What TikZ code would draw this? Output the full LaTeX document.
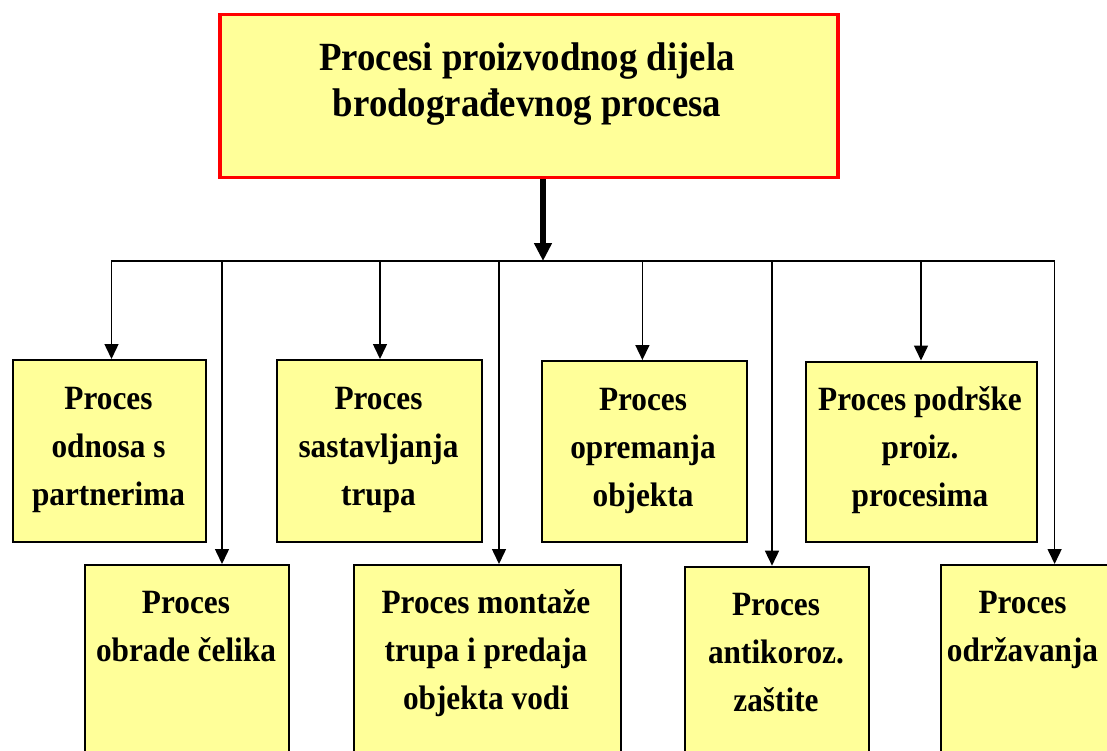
\documentclass[tikz,border=0pt]{standalone}
\usepackage{fontspec}
\setmainfont{Liberation Serif}[FakeStretch=0.92]
\usetikzlibrary{arrows.meta}
\definecolor{boxyellow}{HTML}{FFFF99}
\newcommand\firststrut{\rule{0pt}{0.75em}}
\begin{document}
\begin{tikzpicture}[x=1pt,y=-1pt,
  procbox/.style={draw=black,line width=2.3pt,fill=boxyellow,rectangle,inner sep=0pt,anchor=north west},
  topbox/.style={draw=red,line width=3.5pt,fill=boxyellow,rectangle,inner sep=0pt,anchor=north west},
  boxtext/.style={align=center,inner sep=0pt,anchor=north,font=\fontsize{34}{48}\selectfont\bfseries},
  toptext/.style={align=center,inner sep=0pt,anchor=north,font=\fontsize{40}{46.7}\selectfont\bfseries},
  busline/.style={line width=1.5pt,line cap=rect},
  conn/.style={line width=1.5pt,-{Triangle[width=14pt,length=15pt]}},
  mainconn/.style={line width=6pt,-{Triangle[width=17pt,length=18pt]}}]
\useasboundingbox (0,0) rectangle (1107,751);
\fill[white] (0,0) rectangle (1107,751);
% top box
\node[topbox,minimum width=618pt,minimum height=163pt] (top) at (218,13) {};
\node[toptext] (toptxt) at (527,40) {\firststrut Procesi proizvodnog dijela\\brodograđevnog procesa};
% upper row
\node[procbox,minimum width=193pt,minimum height=182pt] (b1) at (12,359) {};
\node[procbox,minimum width=205pt,minimum height=182pt] (b2) at (276,359) {};
\node[procbox,minimum width=205pt,minimum height=181pt] (b3) at (540.5,360) {};
\node[procbox,minimum width=231pt,minimum height=180pt] (b4) at (804.5,360.5) {};
\node[boxtext] (t1) at (108.5,383.5) {\firststrut Proces\\odnosa s\\partnerima};
\node[boxtext] (t2) at (378.5,383.5) {\firststrut Proces\\sastavljanja\\trupa};
\node[boxtext] (t3) at (643,384.5) {\firststrut Proces\\opremanja\\objekta};
\node[boxtext] (t4) at (920,384.5) {\firststrut Proces podrške\\proiz.\\procesima};
% lower row
\node[procbox,minimum width=204pt,minimum height=210pt] (b5) at (84,564) {};
\node[procbox,minimum width=267pt,minimum height=210pt] (b6) at (352.5,564) {};
\node[procbox,minimum width=184pt,minimum height=210pt] (b7) at (684,565.7) {};
\node[procbox,minimum width=180pt,minimum height=210pt] (b8) at (939.6,564) {};
\node[boxtext] (t5) at (186,587.5) {\firststrut Proces\\obrade čelika};
\node[boxtext] (t6) at (486,587.5) {\firststrut Proces montaže\\trupa i predaja\\objekta vodi};
\node[boxtext] (t7) at (776,589.5) {\firststrut Proces\\antikoroz.\\zaštite};
\node[boxtext] (t8) at (1022.5,587.5) {\firststrut Proces\\održavanja};
% bus
\coordinate (bus) at (543,261);
\coordinate (d1) at (111.5,261);
\coordinate (d2) at (222,261);
\coordinate (d3) at (380,261);
\coordinate (d4) at (499,261);
\coordinate (d5) at (642.4,261);
\coordinate (d6) at (772,261);
\coordinate (d7) at (921,261);
\coordinate (d8) at (1054.6,261);
\draw[mainconn] (top.south -| bus) -- (bus);
\draw[busline] (d1) -- (d8);
\draw[conn] (d1) -- (d1 |- b1.north);
\draw[conn] (d2) -- (d2 |- b5.north);
\draw[conn] (d3) -- (d3 |- b2.north);
\draw[conn] (d4) -- (d4 |- b6.north);
\draw[conn] (d5) -- (d5 |- b3.north);
\draw[conn] (d6) -- (d6 |- b7.north);
\draw[conn] (d7) -- (d7 |- b4.north);
\draw[conn] (d8) -- (d8 |- b8.north);
\end{tikzpicture}
\end{document}
